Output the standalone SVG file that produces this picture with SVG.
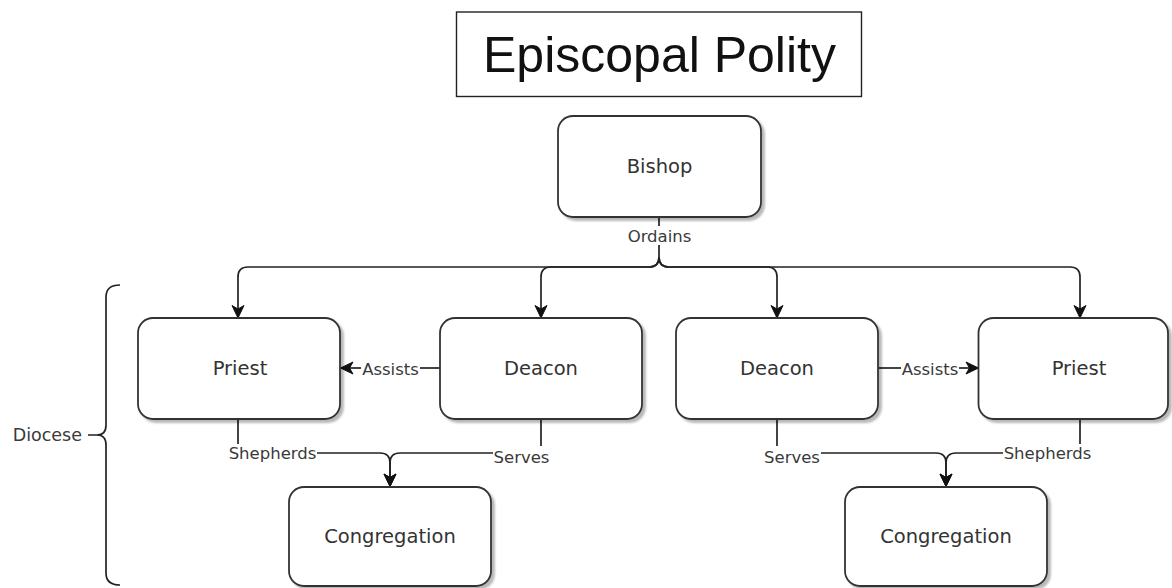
<svg xmlns="http://www.w3.org/2000/svg" width="1172" height="588" viewBox="0 0 1172 588">
  <style>
    .node rect.box { fill: #ffffff; stroke: #333333; stroke-width: 1.8; filter: url(#shadow); }
    .ntext { font-family: "DejaVu Sans", Verdana, sans-serif; font-size: 19.5px; fill: #333333; text-anchor: middle; dominant-baseline: central; }
    .lbl { font-family: "DejaVu Sans", Verdana, sans-serif; font-size: 16.5px; fill: #3a3a3a; text-anchor: middle; dominant-baseline: central; }
    .edge { fill: none; stroke: #222222; stroke-width: 1.7; }
    .title { font-family: "Liberation Sans", Arial, sans-serif; font-size: 50px; fill: #111111; text-anchor: middle; }
  </style>
  <defs>
    <filter id="shadow" x="-10%" y="-10%" width="130%" height="130%">
      <feGaussianBlur in="SourceAlpha" stdDeviation="1.2"/>
      <feOffset dx="2.5" dy="3" result="b"/>
      <feComponentTransfer><feFuncA type="linear" slope="0.28"/></feComponentTransfer>
      <feMerge><feMergeNode/><feMergeNode in="SourceGraphic"/></feMerge>
    </filter>
    <marker id="arrow" markerUnits="userSpaceOnUse" markerWidth="16" markerHeight="16" viewBox="0 0 16 16" refX="14" refY="8" orient="auto">
      <path d="M14,8 L1.5,2 L5,8 L1.5,14 Z" fill="#111111" stroke="#111111" stroke-width="1" stroke-linejoin="miter"/>
    </marker>
  </defs>
  <rect width="1172" height="588" fill="#ffffff"/>

  <g id="title">
    <rect x="456.5" y="12" width="405" height="84.5" fill="#ffffff" stroke="#222222" stroke-width="1.4"/>
    <text class="title" x="659.5" y="71.5">Episcopal Polity</text>
  </g>

  <g id="connectors">
    <!-- Ordains -->
    <path class="edge" d="M659,217 V226"/>
    <path class="edge" d="M659,245 V257 Q659,267 649,267 H248 Q238,267 238,277 V318" marker-end="url(#arrow)"/>
    <path class="edge" d="M659,257 Q659,267 649,267 H551 Q541,267 541,277 V318" marker-end="url(#arrow)"/>
    <path class="edge" d="M659,257 Q659,267 669,267 H767 Q777,267 777,277 V318" marker-end="url(#arrow)"/>
    <path class="edge" d="M659,257 Q659,267 669,267 H1070 Q1080,267 1080,277 V318" marker-end="url(#arrow)"/>
    <text class="lbl" x="659.5" y="236">Ordains</text>
    <!-- Assists left -->
    <path class="edge" d="M440,368 H420"/>
    <path class="edge" d="M361,368 H340.5" marker-end="url(#arrow)"/>
    <text class="lbl" x="390.5" y="369">Assists</text>
    <!-- Assists right -->
    <path class="edge" d="M878,368 H901"/>
    <path class="edge" d="M959,368 H978.5" marker-end="url(#arrow)"/>
    <text class="lbl" x="930" y="369">Assists</text>
    <!-- Shepherds left -->
    <path class="edge" d="M238,419 V444"/>
    <path class="edge" d="M317,453 H380 Q390,453 390,463 V486.5" marker-end="url(#arrow)"/>
    <text class="lbl" x="272.5" y="453">Shepherds</text>
    <!-- Serves left -->
    <path class="edge" d="M541,419 V446"/>
    <path class="edge" d="M493,453 H400 Q390,453 390,463 V486.5" marker-end="url(#arrow)"/>
    <text class="lbl" x="521.5" y="457">Serves</text>
    <!-- Serves right -->
    <path class="edge" d="M777,419 V446"/>
    <path class="edge" d="M821,453 H936 Q946,453 946,463 V486.5" marker-end="url(#arrow)"/>
    <text class="lbl" x="792" y="457">Serves</text>
    <!-- Shepherds right -->
    <path class="edge" d="M1080,419 V444"/>
    <path class="edge" d="M1003,453 H956 Q946,453 946,463 V486.5" marker-end="url(#arrow)"/>
    <text class="lbl" x="1047.5" y="453">Shepherds</text>
  </g>

  <g id="node-bishop" class="node">
    <rect class="box" x="558" y="116" width="203" height="101" rx="15"/>
    <text class="ntext" x="659.5" y="166.5">Bishop</text>
  </g>
  <g id="node-priest-left" class="node">
    <rect class="box" x="138" y="318" width="202" height="101" rx="15"/>
    <text class="ntext" x="240" y="368">Priest</text>
  </g>
  <g id="node-deacon-left" class="node">
    <rect class="box" x="440" y="318" width="202" height="101" rx="15"/>
    <text class="ntext" x="541" y="368">Deacon</text>
  </g>
  <g id="node-deacon-right" class="node">
    <rect class="box" x="676" y="318" width="202" height="101" rx="15"/>
    <text class="ntext" x="777" y="368">Deacon</text>
  </g>
  <g id="node-priest-right" class="node">
    <rect class="box" x="978.5" y="318" width="189.5" height="101" rx="15"/>
    <text class="ntext" x="1079" y="368">Priest</text>
  </g>
  <g id="node-congregation-left" class="node">
    <rect class="box" x="289" y="487" width="202" height="99" rx="15"/>
    <text class="ntext" x="390" y="536.5">Congregation</text>
  </g>
  <g id="node-congregation-right" class="node">
    <rect class="box" x="845" y="487" width="202" height="99" rx="15"/>
    <text class="ntext" x="946" y="536.5">Congregation</text>
  </g>

  <g id="diocese">
    <path class="edge" d="M120,285 Q106,285 106,297 V425 Q106,435 97,435 H88 M97,435 Q106,435 106,445 V573 Q106,585 120,585" stroke="#333333"/>
    <text class="lbl" x="82" y="435" style="text-anchor:end;font-size:17.5px">Diocese</text>
  </g>
</svg>
